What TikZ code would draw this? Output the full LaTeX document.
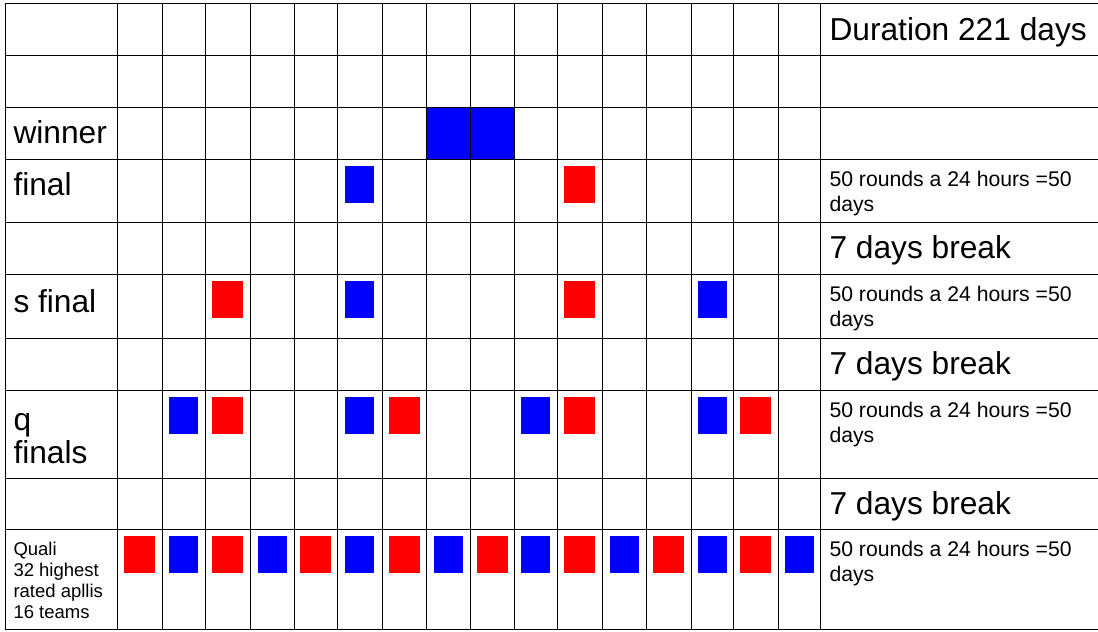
\documentclass[tikz,border=0pt]{standalone}
\usepackage{fontspec}
\setmainfont{Liberation Sans}
\usepackage{tikz}
\usepackage{xcolor}

\begin{document}
\begin{tikzpicture}[x=1pt,y=-1pt,line width=1pt,
  every node/.style={anchor=base west,inner sep=0pt},
  bigtext/.style={font=\fontsize{31.7}{33}\selectfont,align=left},
  notetext/.style={font=\fontsize{21.2}{25}\selectfont,align=left},
  qualitext/.style={font=\fontsize{18.5}{21}\selectfont,align=left},
  redsq/.style={fill={rgb,255:red,255;green,0;blue,0}},
  bluesq/.style={fill={rgb,255:red,0;green,0;blue,255}}]
\useasboundingbox (0,0) rectangle (1098,632);
\fill[white] (0,0) rectangle (1098,632);
% winner cells
\fill[bluesq] (426,107) rectangle (514,159);
% final
\fill[bluesq] (345,166) rectangle (374,203);
\fill[redsq] (564,166) rectangle (595,203);
% s final
\fill[redsq] (212,281) rectangle (243,318);
\fill[bluesq] (345,281) rectangle (374,318);
\fill[redsq] (564,281) rectangle (595,318);
\fill[bluesq] (697.5,281) rectangle (726.5,318);
% q finals
\fill[bluesq] (169,397) rectangle (198,434);
\fill[redsq] (212,397) rectangle (243,434);
\fill[bluesq] (345,397) rectangle (374,434);
\fill[redsq] (388.5,397) rectangle (419.5,434);
\fill[bluesq] (521,397) rectangle (550,434);
\fill[redsq] (564,397) rectangle (595,434);
\fill[bluesq] (697.5,397) rectangle (726.5,434);
\fill[redsq] (740,397) rectangle (771,434);
% quali
\fill[redsq] (124,536) rectangle (155,573);
\fill[bluesq] (169,536) rectangle (198,573);
\fill[redsq] (212,536) rectangle (243,573);
\fill[bluesq] (257.5,536) rectangle (286.5,573);
\fill[redsq] (300,536) rectangle (331,573);
\fill[bluesq] (345,536) rectangle (374,573);
\fill[redsq] (388.5,536) rectangle (419.5,573);
\fill[bluesq] (433.5,536) rectangle (462.5,573);
\fill[redsq] (476.5,536) rectangle (507.5,573);
\fill[bluesq] (521,536) rectangle (550,573);
\fill[redsq] (564,536) rectangle (595,573);
\fill[bluesq] (609.5,536) rectangle (638.5,573);
\fill[redsq] (653,536) rectangle (684,573);
\fill[bluesq] (697.5,536) rectangle (726.5,573);
\fill[redsq] (740,536) rectangle (771,573);
\fill[bluesq] (784.5,536) rectangle (813.5,573);
% grid rows
\draw (5,3) -- (1098,3);
\draw (5,55) -- (1098,55);
\draw (5,107) -- (1098,107);
\draw (5,159) -- (1098,159);
\draw (5,222) -- (1098,222);
\draw (5,274) -- (1098,274);
\draw (5,338) -- (1098,338);
\draw (5,390) -- (1098,390);
\draw (5,478) -- (1098,478);
\draw (5,529) -- (1098,529);
\draw (5,629) -- (1098,629);
% grid columns
\draw (5,3) -- (5,629);
\draw (117,3) -- (117,629);
\draw (162,3) -- (162,629);
\draw (205,3) -- (205,629);
\draw (250,3) -- (250,629);
\draw (294,3) -- (294,629);
\draw (337,3) -- (337,629);
\draw (382,3) -- (382,629);
\draw (426,3) -- (426,629);
\draw (470,3) -- (470,629);
\draw (514,3) -- (514,629);
\draw (557,3) -- (557,629);
\draw (602,3) -- (602,629);
\draw (646,3) -- (646,629);
\draw (691,3) -- (691,629);
\draw (733,3) -- (733,629);
\draw (778,3) -- (778,629);
\draw (820,3) -- (820,629);
% labels (multi-line nodes sit on their last line)
\node[bigtext] (duration) at (829,40) {Duration 221 days};
\node[bigtext] (winner) at (13,143) {winner};
\node[bigtext] (final) at (13,195) {final};
\node[notetext] (finalnote) at (829,211) {50 rounds a 24 hours =50\\days};
\node[bigtext] (breakone) at (829,258) {7 days break};
\node[bigtext] (sfinal) at (13,312) {s final};
\node[notetext] (sfinalnote) at (829,326) {50 rounds a 24 hours =50\\days};
\node[bigtext] (breaktwo) at (829,374) {7 days break};
\node[bigtext] (qfinals) at (13,463) {q\\finals};
\node[notetext] (qfinalsnote) at (829,442) {50 rounds a 24 hours =50\\days};
\node[bigtext] (breakthree) at (829,514) {7 days break};
\node[qualitext] (quali) at (13,618) {Quali\\32 highest\\rated apllis\\16 teams};
\node[notetext] (qualinote) at (829,581) {50 rounds a 24 hours =50\\days};
\end{tikzpicture}
\end{document}
